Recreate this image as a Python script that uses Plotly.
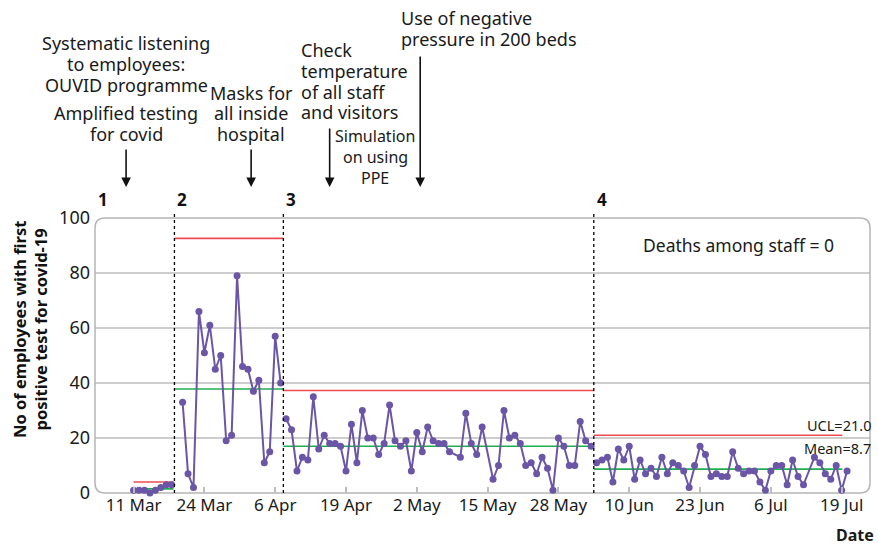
import pandas as pd
import plotly.graph_objects as go

# ---------------- data ----------------
phase1_dates = pd.date_range("2020-03-11", "2020-03-18")
phase1_vals = [1, 1, 1, 0, 1, 2, 3, 3]

phase2_dates = pd.date_range("2020-03-20", "2020-04-07")
phase2_vals = [33, 7, 2, 66, 51, 61, 45, 50, 19, 21, 79, 46, 45, 37, 41, 11, 15, 57, 40]

phase3_missing = ["2020-05-09", "2020-05-15"]
phase3_dates = pd.date_range("2020-04-08", "2020-06-03").drop(pd.to_datetime(phase3_missing))
phase3_vals = [27, 23, 8, 13, 12, 35, 16, 21, 18, 18, 17, 8, 25, 11, 30, 20, 20, 14, 18, 32,
               19, 17, 19, 8, 22, 15, 24, 19, 18, 18, 15, 13, 29, 18, 14, 24, 5, 10, 30, 20,
               21, 18, 10, 11, 7, 13, 9, 1, 20, 17, 10, 10, 26, 19, 17]

phase4_missing = ["2020-07-13"]
phase4_dates = pd.date_range("2020-06-04", "2020-07-20").drop(pd.to_datetime(phase4_missing))
phase4_vals = [11, 12, 13, 4, 16, 12, 17, 5, 12, 7, 9, 6, 13, 7, 11, 10, 8, 2, 10, 17,
               14, 6, 7, 6, 6, 15, 9, 7, 8, 8, 4, 1, 8, 10, 10, 3, 12, 6, 3, 13,
               11, 7, 5, 10, 1, 8]

# phase limits (start, end of the horizontal mean / UCL lines)
phase_starts = ["2020-03-11", "2020-03-18 12:00", "2020-04-07 12:00", "2020-06-03 12:00"]
phase_ends = ["2020-03-18 08:00", "2020-04-07 12:00", "2020-06-03 12:00", "2020-07-19 03:00"]
phase_means = [1.5, 37.8, 17.0, 8.7]
phase_ucls = [4.0, 92.6, 37.3, 21.0]
phase_labels = ["1", "2", "3", "4"]
phase_boundaries = ["2020-03-18 12:00", "2020-04-07 12:00", "2020-06-03 12:00"]

tick_dates = ["2020-03-11", "2020-03-24", "2020-04-06", "2020-04-19", "2020-05-02", "2020-05-15",
              "2020-05-28", "2020-06-10", "2020-06-23", "2020-07-06", "2020-07-19"]
tick_text = ["11 Mar", "24 Mar", "6 Apr", "19 Apr", "2 May", "15 May", "28 May",
             "10 Jun", "23 Jun", "6 Jul", "19 Jul"]

event_dates = ["2020-03-09 15:00", "2020-04-01 14:00", "2020-04-16", "2020-05-02 15:00"]
event_texts = [
    ["Systematic listening", "to employees:", "OUVID programme", "Amplified testing", "for covid"],
    ["Masks for", "all inside", "hospital"],
    ["Check", "temperature", "of all staff", "and visitors"],
    ["Use of negative", "pressure in 200 beds"],
]
sim_text = ["Simulation", "on using", "PPE"]

# ---------------- figure ----------------
W, H = 878, 548
L, R, T, B = 95, 8, 218, 55
PW, PH = W - L - R, H - T - B


def px(x):
    return (x - L) / PW


def py(y):
    return (H - B - y) / PH


FONT = "Noto Sans"
PURPLE = "#6a55a6"
RED = "#ee4b55"
GREEN = "#1fae4f"
GRID = "#bdbdbd"
TXT = "#1a1a1a"

fig = go.Figure()

for s, e, m, u in zip(phase_starts, phase_ends, phase_means, phase_ucls):
    fig.add_trace(go.Scatter(x=[s, e], y=[u, u], mode="lines",
                             line=dict(color=RED, width=1.6), showlegend=False))
    fig.add_trace(go.Scatter(x=[s, e], y=[m, m], mode="lines",
                             line=dict(color=GREEN, width=1.6), showlegend=False))

for d, v in [(phase1_dates, phase1_vals), (phase2_dates, phase2_vals),
             (phase3_dates, phase3_vals), (phase4_dates, phase4_vals)]:
    fig.add_trace(go.Scatter(x=d, y=v, mode="lines+markers",
                             line=dict(color=PURPLE, width=2),
                             marker=dict(color=PURPLE, size=7),
                             showlegend=False, cliponaxis=False))

shapes = []
# grid lines
for g in [20, 40, 60, 80]:
    shapes.append(dict(type="line", xref="paper", yref="y", x0=0, x1=1, y0=g, y1=g,
                       line=dict(color=GRID, width=1.5), layer="below"))
# rounded box
rx, ry = 10 / PW, 10 / PH
path = (f"M {rx},1 L {1-rx},1 Q 1,1 1,{1-ry} L 1,{ry} Q 1,0 {1-rx},0 "
        f"L {rx},0 Q 0,0 0,{ry} L 0,{1-ry} Q 0,1 {rx},1 Z")
shapes.append(dict(type="path", xref="paper", yref="paper", path=path,
                   line=dict(color="#b5b5b5", width=1.5), layer="below"))
# phase boundaries
for b in phase_boundaries:
    shapes.append(dict(type="line", xref="x", yref="paper", x0=b, x1=b, y0=0, y1=py(212),
                       line=dict(color="black", width=1.3, dash="3px,3px")))

annotations = []


def text_line(x, y, s, size=18, anchor="center", bold=False):
    t = f"<b>{s}</b>" if bold else s
    annotations.append(dict(xref="paper", yref="paper", x=px(x), y=py(y), text=t,
                            showarrow=False, xanchor=anchor, yanchor="middle", borderpad=0,
                            font=dict(size=size, color=TXT, family=FONT)))


# phase numbers
annotations.append(dict(xref="paper", yref="paper", x=px(96), y=py(199), text="<b>1</b>",
                        showarrow=False, xanchor="left", yanchor="middle",
                        font=dict(size=17, color="#111", family=FONT)))
for b, lab in zip(phase_boundaries, phase_labels[1:]):
    annotations.append(dict(xref="x", yref="paper", x=b, y=py(199), text=f"<b>{lab}</b>",
                            showarrow=False, xanchor="left", yanchor="middle", xshift=1,
                            font=dict(size=17, color="#111", family=FONT)))

# event arrows
arrow_tops = [148, 148, 127, 55]
for d, top in zip(event_dates, arrow_tops):
    annotations.append(dict(xref="x", yref="paper", x=d, y=py(187), text="",
                            showarrow=True, arrowhead=2, arrowsize=1.2, arrowwidth=1.6,
                            arrowcolor="#111", ax=0, ay=-(187 - top), standoff=0))

# event texts, one line at a time
for s, y in zip(event_texts[0], [43, 64, 85, 113, 134]):
    text_line(126, y, s)
for s, y in zip(event_texts[1], [93, 113, 134]):
    text_line(251, y, s)
for s, y in zip(event_texts[2], [50, 71, 91.5, 111.5]):
    text_line(300, y, s, anchor="left")
for s, y in zip(sim_text, [136, 157, 178]):
    text_line(375, y, s, size=16)
for s, y in zip(event_texts[3], [18, 39.5]):
    text_line(400, y, s, anchor="left")

text_line(738, 245, "Deaths among staff = 0", size=17.5)
text_line(872, 425, f"UCL={phase_ucls[3]:.1f}", size=14.5, anchor="right")
text_line(872, 448, f"Mean={phase_means[3]:.1f}", size=14.5, anchor="right")
text_line(875, 535, "Date", size=16, anchor="right", bold=True)

annotations.append(dict(xref="paper", yref="paper", x=px(30), y=py(330),
                        text="<b>No of employees with first<br>positive test for covid-19</b>",
                        showarrow=False, textangle=-90, xanchor="center", yanchor="middle",
                        font=dict(size=16.5, color="#111", family=FONT)))

fig.update_layout(
    width=W, height=H,
    margin=dict(l=L, r=R, t=T, b=B),
    paper_bgcolor="white", plot_bgcolor="white",
    font=dict(family=FONT, color=TXT),
    shapes=shapes, annotations=annotations,
    xaxis=dict(type="date", range=["2020-03-03 22:00", "2020-07-24 05:00"],
               tickvals=tick_dates, ticktext=tick_text, ticks="inside", ticklen=6,
               tickcolor=GRID, tickwidth=1.5, showgrid=False, zeroline=False, showline=False,
               tickfont=dict(size=17, color=TXT, family=FONT)),
    yaxis=dict(range=[0, 100], tickvals=[0, 20, 40, 60, 80, 100], showgrid=False,
               zeroline=False, showline=False, ticks="", ticklabelstandoff=4,
               tickfont=dict(size=18, color=TXT, family=FONT)),
)

fig.write_html("out.html", config={"displayModeBar": False},
               post_script="document.body.style.margin='0';")
